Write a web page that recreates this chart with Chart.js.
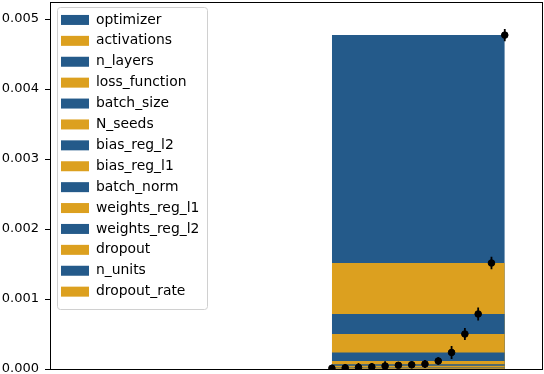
<!DOCTYPE html>
<html>
<head>
<meta charset="utf-8">
<script src="https://cdn.jsdelivr.net/npm/chart.js@4.4.1/dist/chart.umd.min.js"></script>
<style>
  html, body { margin: 0; padding: 0; background: #fff; }
  #wrap { width: 544px; height: 374px; }
</style>
</head>
<body>
<div id="wrap"><canvas id="myChart"></canvas></div>
<script>
// parameters in legend order (largest cumulative importance first)
const params = ['optimizer', 'activations', 'n_layers', 'loss_function', 'batch_size', 'N_seeds',
  'bias_reg_l2', 'bias_reg_l1', 'batch_norm', 'weights_reg_l1', 'weights_reg_l2', 'dropout',
  'n_units', 'dropout_rate'];
// cumulative importance (bar tops / point centres)
const cumImportance = [0.00477, 0.001514, 0.000786, 0.000500, 0.000236, 0.000114,
  0.000071, 0.000060, 0.000053, 0.000043, 0.000030, 0.000022, 0.000016, 0.000010];
// error bar half heights
const errors = [0.000086, 0.000088, 0.000093, 0.000086, 0.000093, 0.000054,
  0.000057, 0.000050, 0.000010, 0.000069, 0.000057, 0.000064, 0.000057, 0.000050];
const yTicks = [0, 0.001, 0.002, 0.003, 0.004, 0.005];
const colors = ['#245a8a', '#dca01f'];

const n = params.length;
const xPos = params.map((p, i) => n - 1 - i);

const datasets = [];

// markers
datasets.push({
  type: 'scatter',
  label: 'points',
  noLegend: true,
  data: params.map((p, i) => ({ x: xPos[i], y: cumImportance[i] })),
  backgroundColor: '#000',
  borderColor: '#000',
  pointRadius: 3.3,
  pointHoverRadius: 3.3,
  order: 0
});

// error bars
const errData = [];
params.forEach((p, i) => {
  errData.push({ x: xPos[i], y: cumImportance[i] - errors[i] });
  errData.push({ x: xPos[i], y: cumImportance[i] + errors[i] });
  errData.push({ x: xPos[i], y: null });
});
datasets.push({
  type: 'line',
  label: 'err',
  noLegend: true,
  data: errData,
  borderColor: '#000',
  borderWidth: 1.8,
  pointRadius: 0,
  fill: false,
  spanGaps: false,
  order: 1
});

// one filled block per parameter, taller ones drawn underneath
params.forEach((p, i) => {
  datasets.push({
    type: 'line',
    label: p,
    data: [{ x: 0, y: cumImportance[i] }, { x: n - 1, y: cumImportance[i] }],
    backgroundColor: colors[i % 2],
    borderColor: colors[i % 2],
    borderWidth: 0,
    pointRadius: 0,
    fill: 'origin',
    order: 2 + (n - 1 - i)
  });
});

// nudge the legend right a little and draw a matplotlib-like frame around it
const legendFrame = {
  id: 'legendFrame',
  beforeDraw(chart) {
    const lg = chart.legend;
    const dx = chart.chartArea.left + 4 - lg.left;
    lg.left += dx;
    lg.right += dx;
    lg.legendHitBoxes.forEach(h => { h.left += dx; });
  },
  afterDraw(chart) {
    const boxes = chart.legend.legendHitBoxes;
    if (!boxes || !boxes.length) return;
    let l = Infinity, t = Infinity, r = -Infinity, b = -Infinity;
    boxes.forEach(h => {
      l = Math.min(l, h.left); t = Math.min(t, h.top);
      r = Math.max(r, h.left + h.width); b = Math.max(b, h.top + h.height);
    });
    const ctx = chart.ctx;
    ctx.save();
    ctx.strokeStyle = '#d0d0d0';
    ctx.lineWidth = 1;
    ctx.beginPath();
    ctx.roundRect(Math.round(l - 4) + 0.5, Math.round(t - 6) + 0.5, Math.round(r - l + 12), Math.round(b - t + 16), 3);
    ctx.stroke();
    ctx.restore();
  }
};

const noSize = (scale) => {
  if (scale.isHorizontal()) scale.height = 0; else scale.width = 0;
  scale.paddingTop = scale.paddingBottom = scale.paddingLeft = scale.paddingRight = 0;
};

Chart.defaults.font.family = 'DejaVu Sans';
Chart.defaults.font.size = 13.9;
Chart.defaults.color = '#000';

new Chart(document.getElementById('myChart'), {
  data: { datasets },
  options: {
    responsive: true,
    maintainAspectRatio: false,
    animation: false,
    events: [],
    layout: { autoPadding: false, padding: { left: 0, right: 2, top: 2, bottom: 5 } },
    scales: {
      x: {
        type: 'linear',
        min: -21.2,
        max: 15.8,
        grid: { display: false },
        ticks: { display: false },
        border: { display: true, color: '#000', width: 1 },
        afterFit: noSize
      },
      x2: {
        type: 'linear',
        position: 'top',
        grid: { display: false },
        ticks: { display: false },
        border: { display: true, color: '#000', width: 1 },
        afterFit: noSize
      },
      y: {
        min: 0,
        max: 0.005243,
        afterBuildTicks: (scale) => { scale.ticks = yTicks.map(v => ({ value: v })); },
        afterFit: (scale) => {
          scale.width = 50;
          scale.paddingTop = 0;
          scale.paddingBottom = 0;
        },
        ticks: {
          padding: 6,
          font: { size: 13 },
          callback: (v) => v.toFixed(3)
        },
        grid: { drawOnChartArea: false, drawTicks: true, tickLength: 5, color: '#000' },
        border: { display: true, color: '#000', width: 1 }
      },
      y2: {
        position: 'right',
        grid: { display: false },
        ticks: { display: false },
        border: { display: true, color: '#000', width: 1 },
        afterFit: noSize
      }
    },
    plugins: {
      tooltip: { enabled: false },
      legend: {
        position: 'chartArea',
        align: 'start',
        reverse: true,
        title: { display: true, text: ' ', font: { size: 5 }, padding: 0 },
        labels: {
          boxWidth: 28,
          boxHeight: 10,
          padding: 7,
          filter: (item, data) => !data.datasets[item.datasetIndex].noLegend
        }
      }
    }
  },
  plugins: [legendFrame]
});
</script>
</body>
</html>
